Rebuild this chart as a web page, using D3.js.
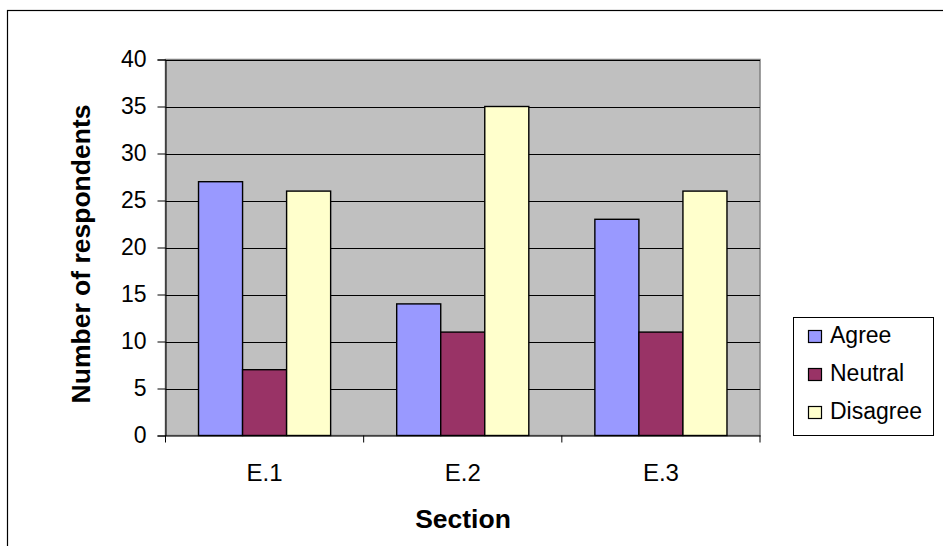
<!DOCTYPE html>
<html><head><meta charset="utf-8">
<script src="https://cdn.jsdelivr.net/npm/d3@7"></script>
<style>body{margin:0;background:#fff}svg{display:block;font-family:"Liberation Sans",Arial,sans-serif}</style>
</head><body>
<script>
const categories = ["E.1","E.2","E.3"];
const seriesNames = ["Agree","Neutral","Disagree"];
const agree = [27,14,23];
const neutral = [7,11,11];
const disagree = [26,35,26];
const colors = ["#9999FF","#993366","#FFFFCC"];
const yTicks = [0,5,10,15,20,25,30,35,40];

const W=943,H=546;
const svg=d3.select("body").append("svg").attr("width",W).attr("height",H);
svg.append("rect").attr("x",7.5).attr("y",10.5).attr("width",W).attr("height",H).attr("fill","#fff").attr("stroke","#000").attr("stroke-width",1.2);

const L=165.5,R=760,T=59.5,B=435.5;
const x=d3.scaleBand().domain(categories).range([L,R]).paddingInner(0).paddingOuter(0);
const y=d3.scaleLinear().domain([0,40]).range([B,T]);
const inner=d3.scaleBand().domain(seriesNames).range([0,x.bandwidth()]).paddingInner(0).paddingOuter(0.75);

svg.append("rect").attr("x",L).attr("y",T).attr("width",R-L).attr("height",B-T).attr("fill","#C0C0C0").attr("stroke","#808080").attr("stroke-width",1.5);
svg.append("g").selectAll("line").data(yTicks.filter(d=>d>0)).join("line")
 .attr("x1",L).attr("x2",R).attr("y1",d=>Math.round(y(d))+0.5).attr("y2",d=>Math.round(y(d))+0.5).attr("stroke","#000");

const data=[agree,neutral,disagree];
categories.forEach((c,i)=>{
  seriesNames.forEach((s,j)=>{
    const v=data[j][i];
    svg.append("rect").attr("x",x(c)+inner(s)).attr("y",y(v)).attr("width",inner.bandwidth()).attr("height",B-y(v))
      .attr("fill",colors[j]).attr("stroke","#000").attr("stroke-width",1.4);
  });
});

const ya=svg.append("g").attr("transform",`translate(${L},0)`)
 .call(d3.axisLeft(y).tickValues(yTicks).tickSize(8).tickPadding(11));
ya.select(".domain").attr("stroke","#000");
ya.selectAll("text").attr("font-size",23).attr("fill","#000").attr("font-family","Liberation Sans, Arial");
const xa=svg.append("g").attr("transform",`translate(0,${B})`)
 .call(d3.axisBottom(x).tickSize(0).tickPadding(28));
xa.select(".domain").attr("stroke","#000");
xa.selectAll("text").attr("font-size",24).attr("fill","#000").attr("font-family","Liberation Sans, Arial");
svg.append("g").selectAll("line").data(categories.concat(["end"])).join("line")
 .attr("x1",(d,i)=>L+i*x.bandwidth()).attr("x2",(d,i)=>L+i*x.bandwidth()).attr("y1",B).attr("y2",B+7).attr("stroke","#000");

svg.append("text").attr("x",463).attr("y",528).attr("text-anchor","middle").attr("font-size",26.5).attr("font-weight","bold").text("Section");
svg.append("text").attr("transform","translate(90,254) rotate(-90)").attr("text-anchor","middle").attr("font-size",26.5).attr("font-weight","bold").text("Number of respondents");

const lg=svg.append("g");
lg.append("rect").attr("x",793.5).attr("y",317.5).attr("width",140).attr("height",118).attr("fill","#fff").attr("stroke","#000");
seriesNames.forEach((s,j)=>{
  const base=343+j*38;
  lg.append("rect").attr("x",808.5).attr("y",base-12.5).attr("width",13).attr("height",12).attr("fill",colors[j]).attr("stroke","#000").attr("stroke-width",1.2);
  lg.append("text").attr("x",830).attr("y",base).attr("font-size",23).text(s);
});
</script>
</body></html>
